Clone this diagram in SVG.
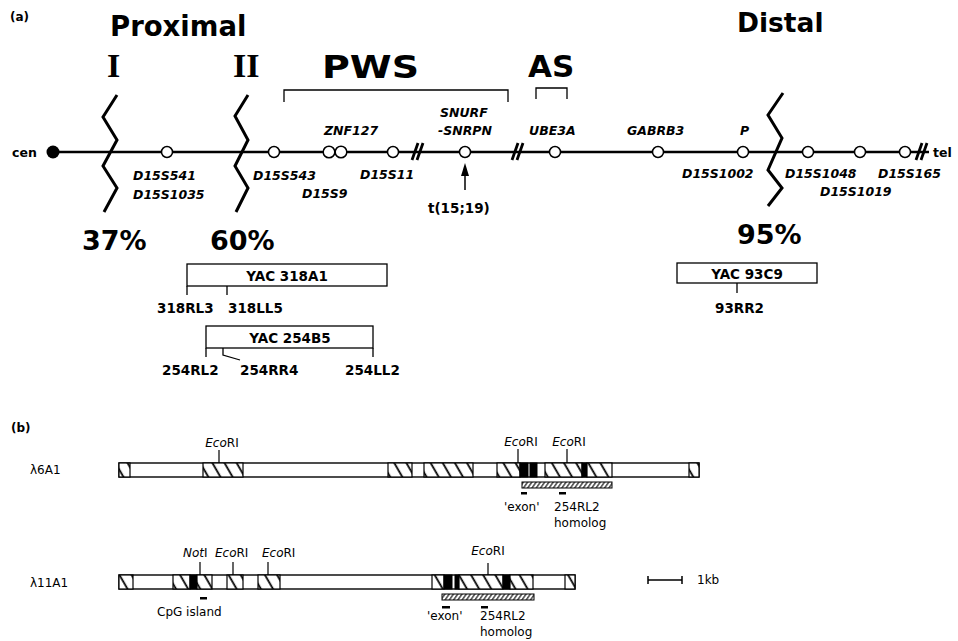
<svg xmlns="http://www.w3.org/2000/svg" width="958" height="641" viewBox="0 0 958 641">
<style>
.b{font-family:"DejaVu Sans",sans-serif;font-weight:bold;fill:#000}
.lab{font-family:"DejaVu Sans",sans-serif;font-weight:bold;font-style:oblique;font-size:12.5px;fill:#000}
.reg{font-family:"DejaVu Sans",sans-serif;font-size:12px;fill:#000}
.rom{font-family:"Liberation Serif",serif;font-weight:bold;font-size:34px;fill:#000}
.ln{stroke:#000;fill:none}
.zz{stroke:#000;stroke-width:3;fill:none;stroke-linejoin:miter}
.node{fill:#fff;stroke:#000;stroke-width:1.5}
.seg{fill:url(#hatch);stroke:#000;stroke-width:1.2}
.blk{fill:#000;stroke:#000;stroke-width:1}
.box{fill:#fff;stroke:#000;stroke-width:1.3}
</style>
<defs>
<pattern id="hatch" width="10.5" height="12" patternUnits="userSpaceOnUse" patternTransform="rotate(-30)">
<rect width="10.5" height="12" fill="#fff"/>
<line x1="5" y1="-1" x2="5" y2="13" stroke="#000" stroke-width="1.8"/>
</pattern>
<pattern id="fine" width="3.5" height="8" patternUnits="userSpaceOnUse" patternTransform="rotate(35)">
<rect width="3.5" height="8" fill="#fff"/>
<line x1="1.7" y1="-1" x2="1.7" y2="9" stroke="#000" stroke-width="1.1"/>
</pattern>
</defs>
<rect width="958" height="641" fill="#fff"/>

<!-- Part (a) titles -->
<g id="title-a">
<text class="b" x="10" y="21" font-size="12">(a)</text>
<text class="b" x="110" y="36" font-size="27.5">Proximal</text>
<text class="b" x="737" y="32" font-size="26.5">Distal</text>
<text class="rom" x="107" y="77">I</text>
<text class="rom" x="233" y="77">II</text>
<text class="b" x="322" y="78" font-size="32" textLength="97" lengthAdjust="spacingAndGlyphs">PWS</text>
<text class="b" x="528" y="77" font-size="31">AS</text>
</g>

<g id="brackets">
<path class="ln" stroke-width="1.3" d="M284,102 V90 H508 V102"/>
<path class="ln" stroke-width="1.3" d="M536,99 V88 H567 V99"/>
</g>

<g id="connectors">
<line class="ln" stroke-width="2.6" x1="53" y1="152" x2="929" y2="152"/>
<line class="ln" stroke-width="1.5" x1="465" y1="190" x2="465" y2="172"/>
<polygon points="465,163 461,176 469,176" fill="#000"/>
</g>

<g id="cen"><circle cx="53" cy="152" r="6.5" fill="#000"/><text class="b" x="12" y="157" font-size="12.5">cen</text></g>
<g id="tel"><text class="b" x="933" y="157" font-size="12.5">tel</text></g>

<g id="breaks">
<path class="ln" stroke-width="2.8" d="M412,160 L418,143 M417,160 L423,143"/>
<path class="ln" stroke-width="2.8" d="M512,160 L518,143 M517,160 L523,143"/>
<path class="ln" stroke-width="2.8" d="M916,160 L922,143 M921,160 L927,143"/>
</g>

<g id="zigzag-I"><polyline class="zz" points="117,95 103,117 117,140 103,166 117,188 104,212"/><text class="b" x="82" y="250" font-size="27">37%</text></g>
<g id="zigzag-II"><polyline class="zz" points="248,95 235,116 248,140 235,166 248,188 236,212"/><text class="b" x="210" y="250" font-size="27">60%</text></g>
<g id="zigzag-III"><polyline class="zz" points="783,93 768,115 782,138 768,170 782,188 768,206"/><text class="b" x="737" y="244" font-size="27">95%</text></g>

<g id="D15S541"><circle class="node" cx="167" cy="152" r="5.5"/><text class="lab" x="133" y="180">D15S541</text><text class="lab" x="133" y="199">D15S1035</text></g>
<g id="D15S543"><circle class="node" cx="274" cy="152" r="5.5"/><text class="lab" x="253" y="180">D15S543</text></g>
<g id="ZNF127"><circle class="node" cx="329" cy="152" r="5.8"/><circle class="node" cx="341" cy="152" r="5.8"/><text class="lab" x="324" y="135">ZNF127</text><text class="lab" x="302" y="198">D15S9</text></g>
<g id="D15S11"><circle class="node" cx="393" cy="152" r="5.5"/><text class="lab" x="360" y="179">D15S11</text></g>
<g id="SNURF"><circle class="node" cx="465" cy="152" r="5.5"/><text class="lab" x="440" y="117">SNURF</text><text class="lab" x="438" y="135">-SNRPN</text><text class="b" x="428" y="213" font-size="13.5">t(15;19)</text></g>
<g id="UBE3A"><circle class="node" cx="555" cy="152" r="5.5"/><text class="lab" x="529" y="135">UBE3A</text></g>
<g id="GABRB3"><circle class="node" cx="658" cy="152" r="5.5"/><text class="lab" x="627" y="135">GABRB3</text></g>
<g id="P"><circle class="node" cx="743" cy="152" r="5.5"/><text class="lab" x="740" y="135">P</text><text class="lab" x="682" y="178">D15S1002</text></g>
<g id="D15S1048"><circle class="node" cx="808" cy="152" r="5.5"/><text class="lab" x="785" y="178">D15S1048</text></g>
<g id="D15S1019"><circle class="node" cx="860" cy="152" r="5.5"/><text class="lab" x="820" y="196">D15S1019</text></g>
<g id="D15S165"><circle class="node" cx="905" cy="152" r="5.5"/><text class="lab" x="878" y="178">D15S165</text></g>

<!-- YACs -->
<g id="YAC318A1">
<rect class="box" x="187" y="264" width="200" height="22"/>
<text class="b" x="287" y="281" font-size="13.5" text-anchor="middle">YAC 318A1</text>
<path class="ln" stroke-width="1.3" d="M187,286 V295 M227,286 V295"/>
<text class="b" x="157" y="313" font-size="13.5">318RL3</text>
<text class="b" x="228" y="313" font-size="13.5">318LL5</text>
</g>
<g id="YAC254B5">
<rect class="box" x="206" y="326" width="167" height="22"/>
<text class="b" x="290" y="343" font-size="13.5" text-anchor="middle">YAC 254B5</text>
<path class="ln" stroke-width="1.3" d="M206,348 V357 M373,348 V357 M223,348 V355 L240,360"/>
<text class="b" x="162" y="375" font-size="13.5">254RL2</text>
<text class="b" x="240" y="375" font-size="13.5">254RR4</text>
<text class="b" x="345" y="375" font-size="13.5">254LL2</text>
</g>
<g id="YAC93C9">
<rect class="box" x="677" y="263" width="140" height="20"/>
<text class="b" x="747" y="279" font-size="13.5" text-anchor="middle">YAC 93C9</text>
<path class="ln" stroke-width="1.3" d="M737,283 V293"/>
<text class="b" x="715" y="313" font-size="13.5">93RR2</text>
</g>

<!-- Part (b) -->
<text class="b" x="11" y="432" font-size="12">(b)</text>

<g id="lambda6A1">
<text class="reg" x="30" y="474" font-size="12.5">λ6A1</text>
<rect x="119" y="463" width="580" height="14" fill="#fff" stroke="#000" stroke-width="1.4"/>
<rect class="seg" x="119" y="463" width="11" height="14"/>
<rect class="seg" x="203" y="463" width="40" height="14"/>
<rect class="seg" x="388" y="463" width="24" height="14"/>
<rect class="seg" x="424" y="463" width="49" height="14"/>
<rect class="seg" x="497" y="463" width="23" height="14"/>
<rect class="blk" x="520" y="463" width="8" height="14"/>
<rect class="blk" x="530" y="463" width="7" height="14"/>
<rect class="seg" x="545" y="463" width="37" height="14"/>
<rect class="blk" x="582" y="463" width="5" height="14"/>
<rect class="seg" x="587" y="463" width="25" height="14"/>
<rect class="seg" x="689" y="463" width="10" height="14"/>
<path class="ln" stroke-width="1.2" d="M219,450 V463 M518,449 V463 M567,449 V463"/>
<text class="reg" x="222" y="447" text-anchor="middle"><tspan font-style="italic">Eco</tspan>RI</text>
<text class="reg" x="521" y="446" text-anchor="middle"><tspan font-style="italic">Eco</tspan>RI</text>
<text class="reg" x="569" y="446" text-anchor="middle"><tspan font-style="italic">Eco</tspan>RI</text>
<rect x="522" y="482" width="90" height="6" fill="url(#fine)" stroke="#000" stroke-width="1"/>
<rect x="521" y="492" width="6" height="2.5" fill="#000"/>
<rect x="559" y="492" width="7" height="2.5" fill="#000"/>
<text class="reg" x="504" y="511">'exon'</text>
<text class="reg" x="554" y="511">254RL2</text>
<text class="reg" x="554" y="527">homolog</text>
</g>

<g id="lambda11A1">
<text class="reg" x="30" y="587" font-size="12.5">λ11A1</text>
<rect x="119" y="575" width="456" height="14" fill="#fff" stroke="#000" stroke-width="1.4"/>
<rect class="seg" x="119" y="575" width="14" height="14"/>
<rect class="seg" x="173" y="575" width="17" height="14"/>
<rect class="blk" x="190" y="575" width="7" height="14"/>
<rect class="seg" x="197" y="575" width="15" height="14"/>
<rect class="seg" x="227" y="575" width="16" height="14"/>
<rect class="seg" x="258" y="575" width="22" height="14"/>
<rect class="seg" x="432" y="575" width="12" height="14"/>
<rect class="blk" x="444" y="575" width="8" height="14"/>
<rect class="blk" x="455" y="575" width="4" height="14"/>
<rect class="seg" x="459" y="575" width="44" height="14"/>
<rect class="blk" x="503" y="575" width="7" height="14"/>
<rect class="seg" x="510" y="575" width="23" height="14"/>
<rect class="seg" x="565" y="575" width="10" height="14"/>
<path class="ln" stroke-width="1.2" d="M200,562 V575 M233,562 V575 M268,562 V575 M488,563 V575"/>
<text class="reg" x="183" y="557"><tspan font-style="italic">Not</tspan>I</text>
<text class="reg" x="215" y="557"><tspan font-style="italic">Eco</tspan>RI</text>
<text class="reg" x="262" y="557"><tspan font-style="italic">Eco</tspan>RI</text>
<text class="reg" x="488" y="555" text-anchor="middle"><tspan font-style="italic">Eco</tspan>RI</text>
<rect x="200" y="597" width="7" height="2.5" fill="#000"/>
<text class="reg" x="157" y="616">CpG island</text>
<rect x="442" y="594" width="92" height="6" fill="url(#fine)" stroke="#000" stroke-width="1"/>
<rect x="442" y="606" width="8" height="2.5" fill="#000"/>
<rect x="481" y="606" width="7" height="2.5" fill="#000"/>
<text class="reg" x="427" y="620">'exon'</text>
<text class="reg" x="480" y="620">254RL2</text>
<text class="reg" x="480" y="636">homolog</text>
</g>

<g id="scalebar">
<path class="ln" stroke-width="1.5" d="M648,580 H682 M648,576 V584 M682,576 V584"/>
<text class="reg" x="697" y="584" font-size="11">1kb</text>
</g>
</svg>
